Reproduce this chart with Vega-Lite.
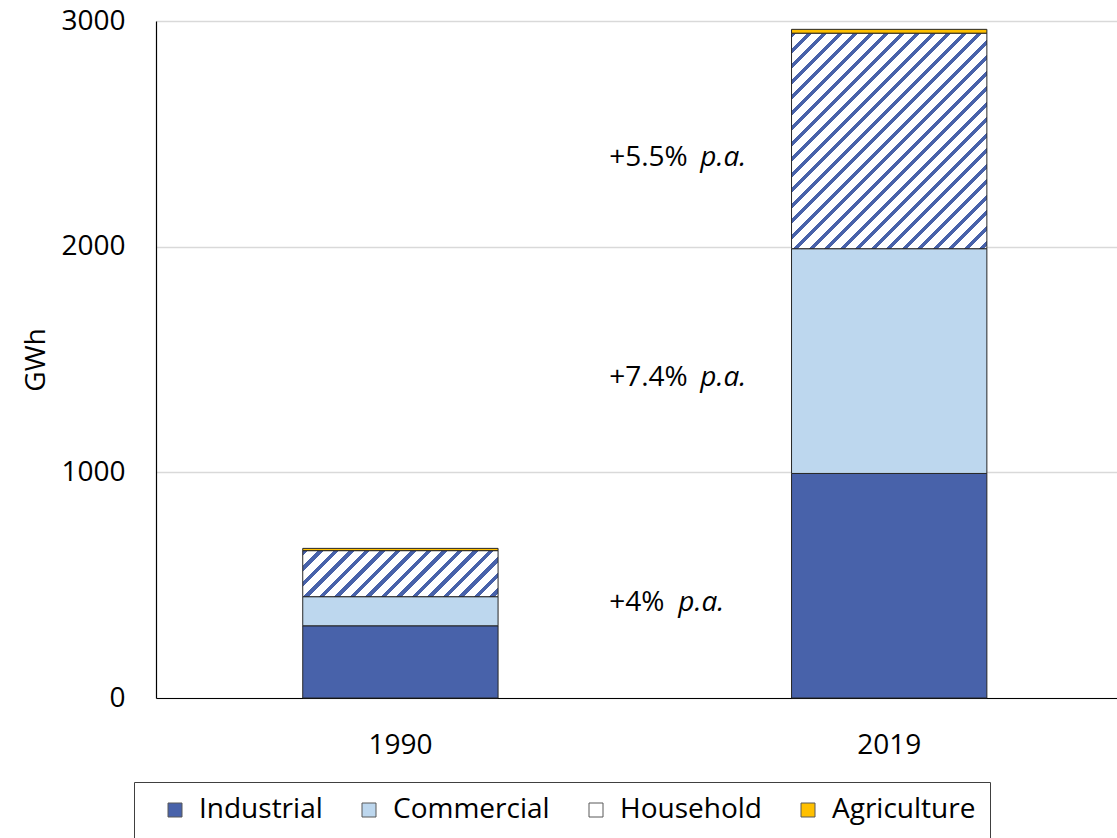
{
  "$schema": "https://vega.github.io/schema/vega-lite/v6.json",
  "width": 961,
  "height": 677,
  "autosize": {"type": "none"},
  "padding": {"left": 156, "top": 21, "right": 0, "bottom": 140},
  "background": "#FFFFFF",
  "config": {
    "font": "Open Sans",
    "view": {"stroke": null},
    "axis": {
      "labelFont": "Open Sans",
      "labelFontSize": 28,
      "labelColor": "#000000",
      "titleFont": "Open Sans",
      "titleFontSize": 28,
      "titleFontWeight": "normal",
      "titleColor": "#000000",
      "ticks": false,
      "domainColor": "#000000",
      "domainWidth": 1.2,
      "gridColor": "#D9D9D9",
      "gridWidth": 1.5
    },
    "axisX": {"labelPadding": 33, "labelAngle": 0, "grid": false},
    "axisY": {"labelPadding": 31, "titlePadding": 10}
  },
  "data": {
    "values": [
      {"year": "1990", "sector": "Industrial", "gwh": 320},
      {"year": "1990", "sector": "Commercial", "gwh": 129},
      {"year": "1990", "sector": "Household", "gwh": 204},
      {"year": "1990", "sector": "Agriculture", "gwh": 10},
      {"year": "2019", "sector": "Industrial", "gwh": 995, "growth": "+4%"},
      {"year": "2019", "sector": "Commercial", "gwh": 996, "growth": "+7.4%"},
      {"year": "2019", "sector": "Household", "gwh": 955, "growth": "+5.5%"},
      {"year": "2019", "sector": "Agriculture", "gwh": 17}
    ]
  },
  "transform": [
    {"calculate": "indexof(['Industrial','Commercial','Household','Agriculture'], datum.sector)", "as": "rank"}
  ],
  "layer": [
    {
      "mark": {"type": "bar", "stroke": "#262626", "strokeWidth": 1},
      "encoding": {
        "x": {
          "field": "year",
          "type": "nominal",
          "title": null,
          "scale": {"paddingInner": 0.6004, "paddingOuter": 0.2832, "align": 0.53}
        },
        "y": {
          "field": "gwh",
          "type": "quantitative",
          "stack": "zero",
          "title": "GWh",
          "scale": {"domain": [0, 3000], "nice": false},
          "axis": {"values": [0, 1000, 2000, 3000], "format": "d"}
        },
        "order": {"field": "rank", "type": "quantitative"},
        "fill": {
          "field": "sector",
          "type": "nominal",
          "scale": {
            "domain": ["Industrial", "Commercial", "Household", "Agriculture"],
            "range": ["#4862AA", "#BDD7EE", "#FFFFFF", "#FFC000"]
          },
          "condition": [
            {
              "test": "datum.sector === 'Household' && datum.year === '1990'",
              "value": {
                "gradient": "linear", "x1": 0, "y1": 0, "x2": 1.1706, "y2": 0.2757,
                "stops": [
                  {"offset": 0, "color": "#4862AA"}, {"offset": 0.0216, "color": "#4862AA"}, {"offset": 0.0216, "color": "#FFFFFF"}, {"offset": 0.0642, "color": "#FFFFFF"},
                  {"offset": 0.0642, "color": "#4862AA"}, {"offset": 0.0858, "color": "#4862AA"}, {"offset": 0.0858, "color": "#FFFFFF"}, {"offset": 0.1285, "color": "#FFFFFF"},
                  {"offset": 0.1285, "color": "#4862AA"}, {"offset": 0.15, "color": "#4862AA"}, {"offset": 0.15, "color": "#FFFFFF"}, {"offset": 0.1927, "color": "#FFFFFF"},
                  {"offset": 0.1927, "color": "#4862AA"}, {"offset": 0.2143, "color": "#4862AA"}, {"offset": 0.2143, "color": "#FFFFFF"}, {"offset": 0.257, "color": "#FFFFFF"},
                  {"offset": 0.257, "color": "#4862AA"}, {"offset": 0.2785, "color": "#4862AA"}, {"offset": 0.2785, "color": "#FFFFFF"}, {"offset": 0.3212, "color": "#FFFFFF"},
                  {"offset": 0.3212, "color": "#4862AA"}, {"offset": 0.3428, "color": "#4862AA"}, {"offset": 0.3428, "color": "#FFFFFF"}, {"offset": 0.3854, "color": "#FFFFFF"},
                  {"offset": 0.3854, "color": "#4862AA"}, {"offset": 0.407, "color": "#4862AA"}, {"offset": 0.407, "color": "#FFFFFF"}, {"offset": 0.4497, "color": "#FFFFFF"},
                  {"offset": 0.4497, "color": "#4862AA"}, {"offset": 0.4712, "color": "#4862AA"}, {"offset": 0.4712, "color": "#FFFFFF"}, {"offset": 0.5139, "color": "#FFFFFF"},
                  {"offset": 0.5139, "color": "#4862AA"}, {"offset": 0.5355, "color": "#4862AA"}, {"offset": 0.5355, "color": "#FFFFFF"}, {"offset": 0.5782, "color": "#FFFFFF"},
                  {"offset": 0.5782, "color": "#4862AA"}, {"offset": 0.5997, "color": "#4862AA"}, {"offset": 0.5997, "color": "#FFFFFF"}, {"offset": 0.6424, "color": "#FFFFFF"},
                  {"offset": 0.6424, "color": "#4862AA"}, {"offset": 0.664, "color": "#4862AA"}, {"offset": 0.664, "color": "#FFFFFF"}, {"offset": 0.7066, "color": "#FFFFFF"},
                  {"offset": 0.7066, "color": "#4862AA"}, {"offset": 0.7282, "color": "#4862AA"}, {"offset": 0.7282, "color": "#FFFFFF"}, {"offset": 0.7709, "color": "#FFFFFF"},
                  {"offset": 0.7709, "color": "#4862AA"}, {"offset": 0.7924, "color": "#4862AA"}, {"offset": 0.7924, "color": "#FFFFFF"}, {"offset": 0.8351, "color": "#FFFFFF"},
                  {"offset": 0.8351, "color": "#4862AA"}, {"offset": 0.8567, "color": "#4862AA"}, {"offset": 0.8567, "color": "#FFFFFF"}, {"offset": 0.8994, "color": "#FFFFFF"},
                  {"offset": 0.8994, "color": "#4862AA"}, {"offset": 0.9209, "color": "#4862AA"}, {"offset": 0.9209, "color": "#FFFFFF"}, {"offset": 0.9636, "color": "#FFFFFF"},
                  {"offset": 0.9636, "color": "#4862AA"}, {"offset": 0.9852, "color": "#4862AA"}, {"offset": 0.9852, "color": "#FFFFFF"}, {"offset": 1, "color": "#FFFFFF"}
                ]
              }
            },
            {
              "test": "datum.sector === 'Household' && datum.year === '2019'",
              "value": {
                "gradient": "linear", "x1": 0, "y1": 0, "x2": 0.9485, "y2": 1.0466,
                "stops": [
                  {"offset": 0, "color": "#4862AA"}, {"offset": 0.0127, "color": "#4862AA"}, {"offset": 0.0127, "color": "#FFFFFF"}, {"offset": 0.0377, "color": "#FFFFFF"},
                  {"offset": 0.0377, "color": "#4862AA"}, {"offset": 0.0504, "color": "#4862AA"}, {"offset": 0.0504, "color": "#FFFFFF"}, {"offset": 0.0755, "color": "#FFFFFF"},
                  {"offset": 0.0755, "color": "#4862AA"}, {"offset": 0.0881, "color": "#4862AA"}, {"offset": 0.0881, "color": "#FFFFFF"}, {"offset": 0.1132, "color": "#FFFFFF"},
                  {"offset": 0.1132, "color": "#4862AA"}, {"offset": 0.1259, "color": "#4862AA"}, {"offset": 0.1259, "color": "#FFFFFF"}, {"offset": 0.1509, "color": "#FFFFFF"},
                  {"offset": 0.1509, "color": "#4862AA"}, {"offset": 0.1636, "color": "#4862AA"}, {"offset": 0.1636, "color": "#FFFFFF"}, {"offset": 0.1887, "color": "#FFFFFF"},
                  {"offset": 0.1887, "color": "#4862AA"}, {"offset": 0.2013, "color": "#4862AA"}, {"offset": 0.2013, "color": "#FFFFFF"}, {"offset": 0.2264, "color": "#FFFFFF"},
                  {"offset": 0.2264, "color": "#4862AA"}, {"offset": 0.239, "color": "#4862AA"}, {"offset": 0.239, "color": "#FFFFFF"}, {"offset": 0.2641, "color": "#FFFFFF"},
                  {"offset": 0.2641, "color": "#4862AA"}, {"offset": 0.2768, "color": "#4862AA"}, {"offset": 0.2768, "color": "#FFFFFF"}, {"offset": 0.3018, "color": "#FFFFFF"},
                  {"offset": 0.3018, "color": "#4862AA"}, {"offset": 0.3145, "color": "#4862AA"}, {"offset": 0.3145, "color": "#FFFFFF"}, {"offset": 0.3396, "color": "#FFFFFF"},
                  {"offset": 0.3396, "color": "#4862AA"}, {"offset": 0.3522, "color": "#4862AA"}, {"offset": 0.3522, "color": "#FFFFFF"}, {"offset": 0.3773, "color": "#FFFFFF"},
                  {"offset": 0.3773, "color": "#4862AA"}, {"offset": 0.39, "color": "#4862AA"}, {"offset": 0.39, "color": "#FFFFFF"}, {"offset": 0.415, "color": "#FFFFFF"},
                  {"offset": 0.415, "color": "#4862AA"}, {"offset": 0.4277, "color": "#4862AA"}, {"offset": 0.4277, "color": "#FFFFFF"}, {"offset": 0.4528, "color": "#FFFFFF"},
                  {"offset": 0.4528, "color": "#4862AA"}, {"offset": 0.4654, "color": "#4862AA"}, {"offset": 0.4654, "color": "#FFFFFF"}, {"offset": 0.4905, "color": "#FFFFFF"},
                  {"offset": 0.4905, "color": "#4862AA"}, {"offset": 0.5032, "color": "#4862AA"}, {"offset": 0.5032, "color": "#FFFFFF"}, {"offset": 0.5282, "color": "#FFFFFF"},
                  {"offset": 0.5282, "color": "#4862AA"}, {"offset": 0.5409, "color": "#4862AA"}, {"offset": 0.5409, "color": "#FFFFFF"}, {"offset": 0.566, "color": "#FFFFFF"},
                  {"offset": 0.566, "color": "#4862AA"}, {"offset": 0.5786, "color": "#4862AA"}, {"offset": 0.5786, "color": "#FFFFFF"}, {"offset": 0.6037, "color": "#FFFFFF"},
                  {"offset": 0.6037, "color": "#4862AA"}, {"offset": 0.6163, "color": "#4862AA"}, {"offset": 0.6163, "color": "#FFFFFF"}, {"offset": 0.6414, "color": "#FFFFFF"},
                  {"offset": 0.6414, "color": "#4862AA"}, {"offset": 0.6541, "color": "#4862AA"}, {"offset": 0.6541, "color": "#FFFFFF"}, {"offset": 0.6791, "color": "#FFFFFF"},
                  {"offset": 0.6791, "color": "#4862AA"}, {"offset": 0.6918, "color": "#4862AA"}, {"offset": 0.6918, "color": "#FFFFFF"}, {"offset": 0.7169, "color": "#FFFFFF"},
                  {"offset": 0.7169, "color": "#4862AA"}, {"offset": 0.7295, "color": "#4862AA"}, {"offset": 0.7295, "color": "#FFFFFF"}, {"offset": 0.7546, "color": "#FFFFFF"},
                  {"offset": 0.7546, "color": "#4862AA"}, {"offset": 0.7673, "color": "#4862AA"}, {"offset": 0.7673, "color": "#FFFFFF"}, {"offset": 0.7923, "color": "#FFFFFF"},
                  {"offset": 0.7923, "color": "#4862AA"}, {"offset": 0.805, "color": "#4862AA"}, {"offset": 0.805, "color": "#FFFFFF"}, {"offset": 0.8301, "color": "#FFFFFF"},
                  {"offset": 0.8301, "color": "#4862AA"}, {"offset": 0.8427, "color": "#4862AA"}, {"offset": 0.8427, "color": "#FFFFFF"}, {"offset": 0.8678, "color": "#FFFFFF"},
                  {"offset": 0.8678, "color": "#4862AA"}, {"offset": 0.8805, "color": "#4862AA"}, {"offset": 0.8805, "color": "#FFFFFF"}, {"offset": 0.9055, "color": "#FFFFFF"},
                  {"offset": 0.9055, "color": "#4862AA"}, {"offset": 0.9182, "color": "#4862AA"}, {"offset": 0.9182, "color": "#FFFFFF"}, {"offset": 0.9433, "color": "#FFFFFF"},
                  {"offset": 0.9433, "color": "#4862AA"}, {"offset": 0.9559, "color": "#4862AA"}, {"offset": 0.9559, "color": "#FFFFFF"}, {"offset": 0.981, "color": "#FFFFFF"},
                  {"offset": 0.981, "color": "#4862AA"}, {"offset": 0.9936, "color": "#4862AA"}, {"offset": 0.9936, "color": "#FFFFFF"}, {"offset": 1, "color": "#FFFFFF"}
                ]
              }
            }
          ],
          "legend": {
            "orient": "none",
            "legendX": -22,
            "legendY": 761,
            "direction": "horizontal",
            "columns": 4,
            "title": " ",
            "titleOrient": "left",
            "titleFontSize": 1,
            "titlePadding": 13,
            "padding": 14,
            "strokeColor": "#404040",
            "fillColor": "#FFFFFF",
            "symbolType": "square",
            "symbolSize": 196,
            "symbolStrokeColor": "#595959",
            "symbolStrokeWidth": 1,
            "labelFont": "Open Sans",
            "labelFontSize": 28,
            "labelColor": "#000000",
            "labelOffset": 10,
            "labelLimit": 400,
            "columnPadding": 32,
            "encode": {
              "symbols": {
                "update": {
                  "stroke": {"value": "#595959"},
                  "strokeWidth": {"value": 1},
                  "fill": {
                    "condition": [
                      {
                        "test": "datum.value === 'Household'",
                        "value": {
                          "gradient": "linear", "x1": 0, "y1": 0, "x2": 1, "y2": 1,
                          "stops": [
                            {"offset": 0, "color": "#4862AA"}, {"offset": 0.12, "color": "#4862AA"}, {"offset": 0.12, "color": "#FFFFFF"}, {"offset": 0.38, "color": "#FFFFFF"},
                            {"offset": 0.38, "color": "#4862AA"}, {"offset": 0.62, "color": "#4862AA"}, {"offset": 0.62, "color": "#FFFFFF"}, {"offset": 0.88, "color": "#FFFFFF"},
                            {"offset": 0.88, "color": "#4862AA"}, {"offset": 1, "color": "#4862AA"}
                          ]
                        }
                      },
                      {"test": "datum.value === 'Industrial'", "value": "#4862AA"},
                      {"test": "datum.value === 'Commercial'", "value": "#BDD7EE"}
                    ],
                    "value": "#FFC000"
                  }
                }
              }
            }
          }
        }
      }
    },
    {
      "transform": [
        {"stack": "gwh", "groupby": ["year"], "sort": [{"field": "rank", "order": "ascending"}], "as": ["lo", "hi"]},
        {"calculate": "(datum.lo + datum.hi) / 2", "as": "mid"},
        {"filter": "isValid(datum.growth)"}
      ],
      "layer": [
        {
          "mark": {"type": "text", "align": "left", "baseline": "middle", "dx": -280, "dy": 17, "fontSize": 28, "font": "Open Sans", "color": "#000000"},
          "encoding": {
            "x": {"field": "year", "type": "nominal", "title": null},
            "y": {"field": "mid", "type": "quantitative", "title": "GWh"},
            "text": {"field": "growth"}
          }
        },
        {
          "transform": [{"filter": "datum.growth === '+4%'"}],
          "mark": {"type": "text", "align": "left", "baseline": "middle", "dx": -211, "dy": 17, "fontSize": 28, "font": "Open Sans", "fontStyle": "italic", "color": "#000000"},
          "encoding": {
            "x": {"field": "year", "type": "nominal", "title": null},
            "y": {"field": "mid", "type": "quantitative", "title": "GWh"},
            "text": {"value": "p.a."}
          }
        },
        {
          "transform": [{"filter": "datum.growth !== '+4%'"}],
          "mark": {"type": "text", "align": "left", "baseline": "middle", "dx": -189, "dy": 17, "fontSize": 28, "font": "Open Sans", "fontStyle": "italic", "color": "#000000"},
          "encoding": {
            "x": {"field": "year", "type": "nominal", "title": null},
            "y": {"field": "mid", "type": "quantitative", "title": "GWh"},
            "text": {"value": "p.a."}
          }
        }
      ]
    }
  ]
}
